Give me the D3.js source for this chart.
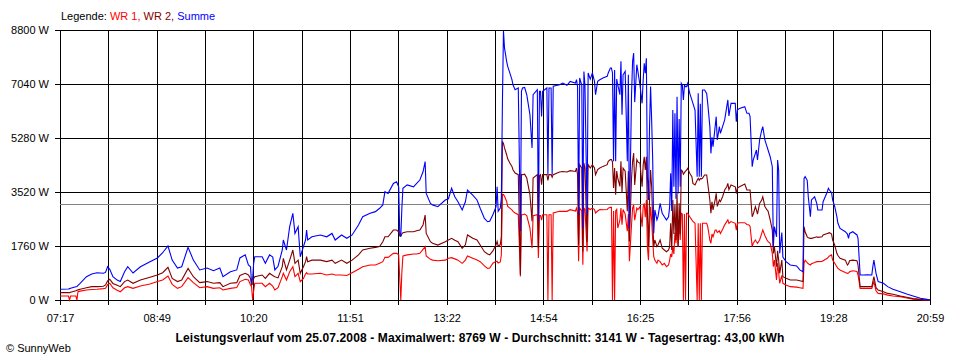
<!DOCTYPE html>
<html><head><meta charset="utf-8">
<script src="https://cdn.jsdelivr.net/npm/d3@7"></script>
<style>
body{margin:0;background:#fff}
svg{display:block}
text{font-family:"Liberation Sans",Arial,sans-serif;font-size:11px}
</style>
</head><body><svg id="c" width="960" height="360"></svg>
<script>
// minutes after 07:17
const minuteOffset = [
0,8,9,10,15,16,17,19,25,30,
35,41,43,45,47,50,54,57,61,64,
69,76,85,92,97,102,106,111,115,121,
126,132,139,145,151,154,161,167,170,175,
178,180,181,182,183,184,191,194,198,201,
203,206,210,211,214,217,220,222,225,227,
230,232,233,234,238,246,252,257,260,266,
271,276,282,286,293,298,302,305,307,310,
315,318,320,321,322,323,324,328,334,337,
340,343,345,346,350,352,357,364,367,370,
373,376,380,383,385,390,394,397,401,404,
406,409,412,413,414,416,417,418,419,420,
422,423,425,427,428,430,433,435,436,437,
439,441,444,446,447,451,452,453,454,455,
456,460,461,462,464,465,466,472,475,479,
482,487,488,489,490,491,493,494,495,496,
498,499,501,503,505,506,508,510,513,517,
518,520,521,522,523,524,525,526,527,529,
530,531,532,534,536,537,538,540,541,542,
543,545,546,548,550,551,552,553,554,555,
556,557,558,559,560,561,562,564,565,567,
569,571,573,575,576,577,578,579,580,581,
582,583,584,585,586,587,588,589,590,591,
592,593,595,597,598,600,602,603,604,605,
606,607,609,611,612,614,615,616,617,619,
620,621,623,624,626,628,630,631,632,634,
638,639,640,642,647,649,651,652,654,655,
657,658,659,661,663,664,666,668,669,671,
673,674,675,677,678,679,680,682,683,686,
690,696,699,702,703,704,706,707,709,710,
713,715,716,720,721,725,726,727,729,730,
732,734,735,737,742,744,745,746,749,753,
754,756,759,763,767,768,769,771,773,778,
782,787,794,800,806,813,819,822];

// Summe (W)
const summe = [
350,360,370,380,430,440,480,540,760,850,
890,870,900,1085,1000,760,650,600,920,1085,
880,1085,1250,1370,1540,1760,1300,1040,1085,1720,
1300,980,1040,955,1040,760,920,980,1370,1470,
1140,1085,540,700,1200,1410,1410,1195,1470,1400,
980,1100,1630,1955,1630,2390,2825,2170,2390,1410,
1740,1955,2280,1955,2060,2120,2060,2170,1955,2120,
2010,2120,2445,2715,2825,2880,2990,3100,3530,3475,
3800,3855,3690,2170,2060,3000,3640,3750,3690,3800,
3910,4180,4510,3475,3150,3100,3040,3260,3300,3640,
3365,3205,2935,3200,3585,3420,3260,2990,2660,2550,
2565,2780,3040,3690,2890,3000,3325,6400,8769,8210,
7780,7615,7400,7180,7015,6855,6910,2240,6800,6910,
6930,6690,6040,4955,6690,6855,2565,6800,6800,5985,
6800,6910,4085,6910,6910,4085,6965,7015,7070,7000,
7125,7070,7180,6950,2780,7235,7000,2345,7450,7000,
2780,7400,7200,7400,7125,6690,7125,7180,7235,7290,
7400,7560,7560,7400,4520,7500,4520,7200,7015,6690,
7780,6040,7340,7450,4520,7340,2345,6690,7780,8050,
6450,7670,7450,7000,6410,7170,7715,7390,7880,4020,
3260,5650,6955,5870,4565,2175,2935,2610,2715,3150,
2825,2715,2610,2715,3040,4130,2900,6190,3690,6085,
3300,6625,3475,5900,3690,7060,7000,6520,7000,6955,
6955,7060,6735,6520,6410,6190,4020,6735,4020,6400,
4020,6845,6845,6735,6410,5650,4780,5300,5000,5650,
5975,5215,5650,5430,5650,5870,6300,6520,6000,6410,
6410,5810,6190,6245,6300,6085,6085,5975,4345,4565,
4780,4890,4565,5215,5540,5650,5215,5000,4890,4670,
4345,1740,2390,2060,4565,4235,1520,2200,1400,1250,
1140,1110,980,920,3965,4020,3900,3365,2715,3260,
3365,3150,2935,2935,3205,3530,3640,3585,3500,3260,
3040,2715,2500,2335,2225,2150,2010,2170,2225,2120,
2010,815,815,820,815,1090,1300,870,600,545,
435,350,270,195,130,55,20,0];

// WR 2 (W)
const wr2 = [
240,240,240,250,300,320,330,350,400,435,
435,450,490,620,675,540,480,435,600,650,
545,650,740,815,890,1065,705,600,650,1030,
760,565,600,545,565,435,545,565,800,870,
815,705,490,520,700,760,815,705,870,800,
760,720,1085,1360,980,1300,1630,1195,1300,870,
1085,1250,1410,1250,1300,1300,1250,1300,1195,1300,
1195,1300,1470,1630,1685,1715,1740,1900,2060,2060,
2280,2280,2225,2085,2085,2150,2195,2225,2225,2260,
2280,2445,2770,2170,1900,1850,1790,1900,1955,2010,
1950,1900,1685,1800,2120,2010,1955,1790,1575,1500,
1475,1600,1800,1910,1750,1800,2075,5170,5100,4955,
4735,4600,4465,4355,4245,4140,4085,825,4085,4085,
4100,3975,3435,2565,3975,4085,1695,4050,4085,3760,
4085,4085,3900,4085,4085,4000,4085,4170,4190,4170,
4215,4190,4300,4085,1800,4410,4300,1585,4465,4300,
1910,4410,4300,4410,4300,4085,4250,4300,4355,4410,
4520,4575,4575,4500,3650,4300,3435,4200,3975,3700,
4520,3500,4300,4200,2890,4200,1910,3975,4520,4790,
3750,4575,4500,4455,3690,4400,4670,4235,4670,2825,
1740,3260,4235,3690,2610,1740,1955,1740,1790,1955,
1685,1630,1575,1630,1740,2500,1630,3260,2150,3100,
1955,3475,1740,3150,2150,4235,4200,4100,4150,4200,
4235,4290,4130,4020,3800,3750,3900,3965,3900,3965,
3950,3965,4075,4075,3800,3260,2825,3200,2935,3260,
3475,3050,3260,3205,3365,3585,3690,3800,3600,3750,
3690,3470,3650,3690,3780,3585,3585,3585,2715,2800,
3040,2935,2800,3150,3260,3365,3050,2935,2900,2610,
2280,1520,1740,1085,1600,1300,870,1300,760,705,
650,650,630,600,2390,2225,2060,2030,2010,2010,
2040,2060,2040,2060,2120,2170,2180,2195,2150,1955,
1790,1520,1450,1360,1300,1140,1180,1280,1300,1280,
1140,435,435,440,435,600,760,400,325,270,
215,185,130,90,45,20,0,0];

// WR 1 (W)
const wr1 = [
130,130,0,130,130,0,270,290,325,340,
350,370,380,500,545,400,320,270,400,435,
380,455,520,600,650,780,510,380,435,730,
565,400,435,380,400,325,380,410,600,675,
650,490,435,0,300,545,545,435,545,450,
325,400,760,870,650,920,1085,760,870,600,
705,845,890,845,845,870,815,845,815,815,
800,890,1000,1085,1140,1140,1195,1250,1390,1390,
1520,1520,1470,700,0,900,1435,1470,1500,1500,
1520,1650,1740,1435,1325,1300,1280,1300,1360,1380,
1340,1300,1195,1300,1435,1360,1300,1250,1110,1030,
1040,1200,1260,1260,1205,1240,1475,3435,3435,3380,
3215,3050,2995,2940,2890,2835,2780,770,2780,2780,
2800,2750,2345,1695,2750,2780,1370,2750,2750,2600,
2780,2780,0,2780,2780,0,2835,2890,2890,2890,
2945,2900,2995,2850,1260,2995,2900,1150,2995,2950,
1585,2995,2950,2995,2950,2835,2900,2950,2940,2950,
2995,3020,3020,0,2900,0,2900,2950,2345,2600,
2995,2450,2950,2800,2240,2800,1260,2450,2995,3100,
2600,2995,2950,3040,2390,3040,3150,2700,3260,1740,
1300,2390,3040,2600,1955,1410,1300,1195,1300,1250,
1140,1195,1085,1140,1300,1500,1400,1740,1500,2200,
1850,2610,1740,2600,1955,2825,2800,0,2800,0,
2825,2825,2715,2610,2560,2500,0,2500,0,2500,
0,2500,2500,2500,2390,1955,1850,2150,2060,2280,
2280,2200,2250,2170,2300,2450,2555,2610,2500,2555,
2500,2280,2500,2520,2520,2460,2445,2400,1740,1850,
1955,1900,1850,1955,2170,2280,2100,1955,1900,1850,
1520,1085,1300,650,1200,900,545,800,545,490,
435,420,400,380,1195,1300,1215,1180,1140,1180,
1220,1250,1250,1260,1280,1360,1400,1435,1470,1300,
1200,1085,1030,980,900,870,880,920,955,930,
815,380,380,380,380,490,600,300,215,200,
160,130,110,65,30,10,0,0];

const yTicks = [0, 1760, 3520, 5280, 7040, 8800];
const xTickLabels = ["07:17","08:49","10:20","11:51","13:22","14:54","16:25","17:56","19:28","20:59"];
const totalMinutes = 822;   // 07:17 .. 20:59
const average = 3141;
const legendParts = [
  {text: "Legende: ", color: "#000000"},
  {text: "WR 1, ", color: "#ff0000"},
  {text: "WR 2, ", color: "#800000"},
  {text: "Summe", color: "#0000ff"}
];
const titleText = "Leistungsverlauf vom 25.07.2008 - Maximalwert: 8769 W - Durchschnitt: 3141 W - Tagesertrag: 43,00 kWh";
const creditText = "\u00a9 SunnyWeb";

const svg = d3.select("#c");
const L = 60, R = 930, T = 30, B = 300;
const x = d3.scaleLinear().domain([0, totalMinutes]).range([L, R]);
const y = d3.scaleLinear().domain([0, 8800]).range([B, T]);

const gridVals = d3.range(19).map(i => i * totalMinutes / 18);

// grid (vertical)
svg.append("g").attr("transform", `translate(0,${B})`)
  .call(d3.axisBottom(x).tickValues(gridVals).tickSize(-(B - T)).tickFormat(""))
  .call(g => g.select(".domain").remove())
  .call(g => g.selectAll("line").attr("stroke", "#000").attr("shape-rendering", "crispEdges"));
// grid (horizontal)
svg.append("g").attr("transform", `translate(${L},0)`)
  .call(d3.axisLeft(y).tickValues(yTicks).tickSize(-(R - L)).tickFormat(""))
  .call(g => g.select(".domain").remove())
  .call(g => g.selectAll("line").attr("stroke", "#000").attr("shape-rendering", "crispEdges"));

// right border
svg.append("line").attr("x1", Math.round(x(totalMinutes)) + 0.5).attr("x2", Math.round(x(totalMinutes)) + 0.5)
  .attr("y1", T).attr("y2", B).attr("stroke", "#000").attr("shape-rendering", "crispEdges");

// y axis with labels
svg.append("g").attr("transform", `translate(${L},0)`)
  .call(d3.axisLeft(y).tickValues(yTicks).tickSize(5).tickPadding(6).tickFormat(d => d + " W"))
  .call(g => g.select(".domain").remove())
  .call(g => g.selectAll("line").attr("stroke", "#000").attr("shape-rendering", "crispEdges"))
  .call(g => g.selectAll("text").attr("fill", "#000").style("font-family", '"Liberation Sans",Arial,sans-serif').style("font-size", "11px"));

// x axis with labels
svg.append("g").attr("transform", `translate(0,${B})`)
  .call(d3.axisBottom(x).tickValues(gridVals).tickSize(5).tickPadding(9)
    .tickFormat((d, i) => i % 2 === 0 ? xTickLabels[i / 2] : ""))
  .call(g => g.select(".domain").remove())
  .call(g => g.selectAll("line").attr("stroke", "#000").attr("shape-rendering", "crispEdges"))
  .call(g => g.selectAll("text").attr("fill", "#000").style("font-family", '"Liberation Sans",Arial,sans-serif').style("font-size", "11px"));

// average line
const ya = Math.round(y(average)) + 0.5;
svg.append("line").attr("x1", L).attr("x2", R).attr("y1", ya).attr("y2", ya)
  .attr("stroke", "#808080").attr("stroke-width", 1).attr("shape-rendering", "crispEdges");

// series
const idx = d3.range(minuteOffset.length);
function drawSeries(values, color) {
  const line = d3.line().x(i => x(minuteOffset[i])).y(i => y(values[i])).curve(d3.curveLinear);
  svg.append("path").attr("d", line(idx)).attr("fill", "none").attr("stroke", color)
    .attr("stroke-width", 1.1).attr("stroke-linejoin", "miter");
}
drawSeries(wr1, "#ff0000");
drawSeries(wr2, "#800000");
drawSeries(summe, "#0000ff");

// legend
const leg = svg.append("text").attr("x", 61).attr("y", 20).attr("xml:space", "preserve");
leg.selectAll("tspan").data(legendParts).join("tspan")
  .attr("fill", d => d.color).style("white-space", "pre").text(d => d.text);

// title
svg.append("text").attr("x", 480).attr("y", 342).attr("text-anchor", "middle")
  .style("font-weight", "bold").style("font-size", "12px").style("letter-spacing", "0.12px")
  .attr("fill", "#000").text(titleText);

// credit
svg.append("text").attr("x", 6).attr("y", 352).attr("fill", "#000").text(creditText);
</script>
</body></html>
